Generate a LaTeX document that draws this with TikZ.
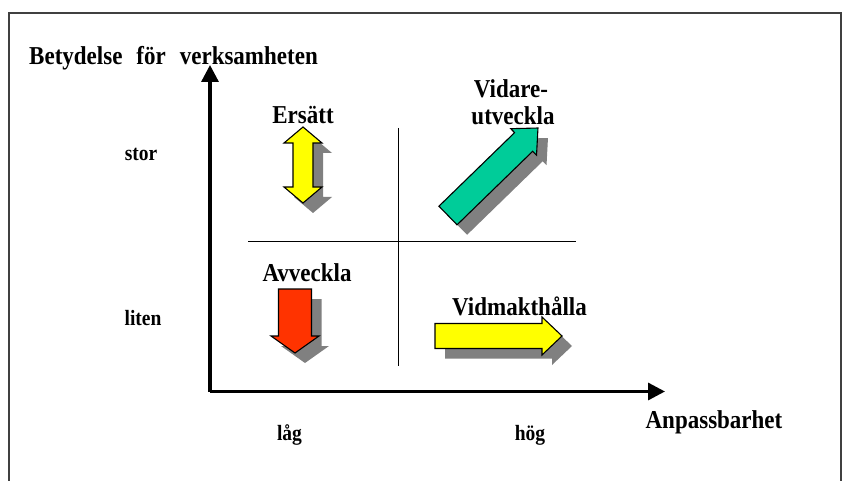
\documentclass[tikz,border=0pt]{standalone}
\usepackage{fontspec}
\setmainfont{Liberation Serif}
\usetikzlibrary{arrows.meta}

\definecolor{arrowyellow}{HTML}{FFFF00}
\definecolor{arrowgreen}{HTML}{00CC99}
\definecolor{arrowred}{HTML}{FF3300}
\definecolor{shadowgray}{HTML}{808080}
\definecolor{framegray}{HTML}{404040}

% single-headed block arrow along +x: length, shaft half width, head half width, head length
\newcommand\blockarrowpath[4]{(0,-#2) -- ({#1-#4},-#2) -- ({#1-#4},-#3) -- (#1,0) -- ({#1-#4},#3) -- ({#1-#4},#2) -- (0,#2) -- cycle}
% double-headed block arrow along +x
\newcommand\dblarrowpath[4]{(0,0) -- (#4,-#3) -- (#4,-#2) -- ({#1-#4},-#2) -- ({#1-#4},-#3) -- (#1,0) -- ({#1-#4},#3) -- ({#1-#4},#2) -- (#4,#2) -- (#4,#3) -- cycle}
% slightly tall lettering
\newcommand\talltext[1]{\scalebox{1}[1.12]{#1}}

\tikzset{
  bigtext/.style={font=\fontsize{23}{27}\selectfont\bfseries, inner sep=0pt},
  smalltext/.style={font=\fontsize{19.5}{23}\selectfont\bfseries, inner sep=0pt},
  axis/.style={line width=3.3pt, -{Triangle[length=17pt,width=17pt]}},
  divider/.style={line width=1pt, black},
  blockfill/.style={draw=black, line width=1.1pt, line join=miter},
  shadowfill/.style={fill=shadowgray, draw=none},
}

\begin{document}
\begin{tikzpicture}[x=1pt, y=-1pt]
  \path[use as bounding box] (0,0) rectangle (843,481);

  % outer frame, open at the bottom
  \draw[framegray, line width=1.3pt] (9,481) -- (9,13) -- (841,13) -- (841,481);

  % axes
  \coordinate (origin) at (210,391.5);
  \coordinate (ytip) at (210,65);
  \coordinate (xtip) at (665,391.5);
  \draw[axis] (origin) -- (ytip);
  \draw[axis] (origin) -- (xtip);

  % quadrant dividers
  \coordinate (hl) at (248,241);
  \coordinate (hr) at (576,241);
  \coordinate (vt) at (398,128);
  \coordinate (vb) at (398,366);
  \draw[divider] (hl) -- (hr);
  \draw[divider] (vt) -- (vb);

  % Ersätt: vertical double arrow
  \begin{scope}[shift={(313,213)}, rotate=90]
    \fill[shadowfill] \dblarrowpath{76}{10}{19}{16};
  \end{scope}
  \begin{scope}[shift={(303,203)}, rotate=90]
    \filldraw[blockfill, fill=arrowyellow] \dblarrowpath{76}{10}{19}{16};
  \end{scope}

  % Vidareutveckla: diagonal arrow
  \begin{scope}[shift={(458,225.5)}, rotate=44.2]
    \fill[shadowfill] \blockarrowpath{125.5}{13}{18.5}{20};
  \end{scope}
  \begin{scope}[shift={(448,215.5)}, rotate=44.2]
    \filldraw[blockfill, fill=arrowgreen] \blockarrowpath{125.5}{13}{18.5}{20};
  \end{scope}

  % Avveckla: downward arrow
  \begin{scope}[shift={(305,299)}, rotate=-90]
    \fill[shadowfill] \blockarrowpath{64}{16.5}{24}{17};
  \end{scope}
  \begin{scope}[shift={(295,289)}, rotate=-90]
    \filldraw[blockfill, fill=arrowred] \blockarrowpath{64}{16.5}{24}{17};
  \end{scope}

  % Vidmakthålla: rightward arrow
  \begin{scope}[shift={(445,346)}]
    \fill[shadowfill] \blockarrowpath{127}{12.5}{19}{20};
  \end{scope}
  \begin{scope}[shift={(435,336)}]
    \filldraw[blockfill, fill=arrowyellow] \blockarrowpath{127}{12.5}{19}{20};
  \end{scope}

  % labels
  \node[bigtext, anchor=base west] (title) at (29,65) {\talltext{Betydelse\hspace{14pt}för\hspace{14pt}verksamheten}};
  \node[bigtext, anchor=base] (ersatt) at (303,124) {\talltext{Ersätt}};
  \node[bigtext, anchor=base] (vidare) at (511,98) {\talltext{Vidare-}};
  \node[bigtext, anchor=base] (utveckla) at (513,125) {\talltext{utveckla}};
  \node[bigtext, anchor=base] (avveckla) at (307,281) {\talltext{Avveckla}};
  \node[bigtext, anchor=base] (vidmakt) at (519.5,315) {\talltext{Vidmakthålla}};
  \node[bigtext, anchor=base] (anpass) at (714,428) {\talltext{Anpassbarhet}};
  \node[smalltext, anchor=base] (stor) at (141,161) {\talltext{stor}};
  \node[smalltext, anchor=base] (liten) at (143,325) {\talltext{liten}};
  \node[smalltext, anchor=base] (lag) at (289.5,440) {\talltext{låg}};
  \node[smalltext, anchor=base] (hog) at (530,440) {\talltext{hög}};
\end{tikzpicture}
\end{document}
